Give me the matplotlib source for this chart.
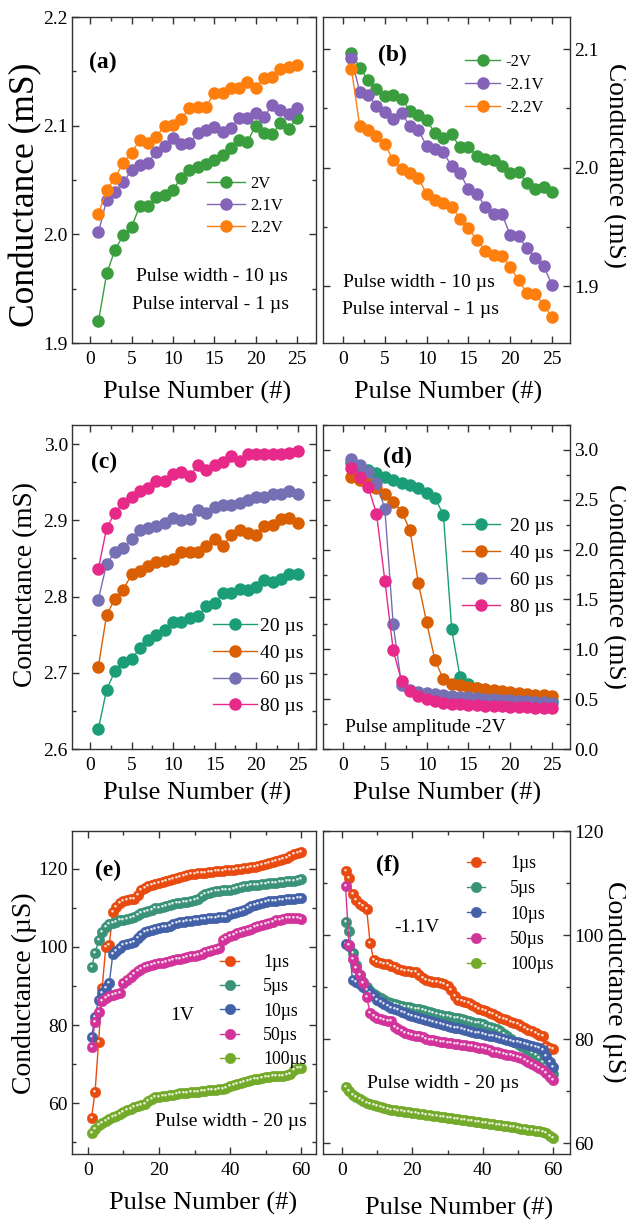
import numpy as np
import matplotlib
matplotlib.use('Agg')
import matplotlib.pyplot as plt
from matplotlib.ticker import MultipleLocator
from matplotlib.legend_handler import HandlerTuple
from matplotlib.path import Path

plt.rcParams['font.family'] = ['Liberation Serif', 'DejaVu Serif']

# ---- data ----
pulse25 = np.arange(1, 26)
pulse60 = np.arange(1, 61)

# (a) potentiation, pulse width 10 us
a_labels = ['2V', '2.1V', '2.2V']
a_2v = [1.920, 1.964, 1.986, 1.999, 2.007, 2.026, 2.026, 2.034, 2.036, 2.041,
        2.052, 2.059, 2.062, 2.065, 2.068, 2.073, 2.079, 2.087, 2.085, 2.100,
        2.093, 2.092, 2.102, 2.097, 2.107]
a_21v = [2.002, 2.032, 2.039, 2.048, 2.059, 2.064, 2.066, 2.076, 2.081, 2.089,
         2.083, 2.084, 2.093, 2.096, 2.099, 2.094, 2.098, 2.107, 2.107, 2.112,
         2.108, 2.119, 2.114, 2.111, 2.116]
a_22v = [2.019, 2.041, 2.052, 2.066, 2.075, 2.087, 2.084, 2.090, 2.100, 2.101,
         2.106, 2.116, 2.117, 2.117, 2.130, 2.130, 2.135, 2.135, 2.140, 2.135,
         2.144, 2.145, 2.152, 2.154, 2.156]

# (b) depression, pulse width 10 us
b_labels = ['-2V', '-2.1V', '-2.2V']
b_2v = [2.097, 2.084, 2.074, 2.066, 2.060, 2.061, 2.058, 2.048, 2.044, 2.040,
        2.029, 2.025, 2.028, 2.017, 2.017, 2.010, 2.007, 2.006, 2.001, 1.995,
        1.996, 1.987, 1.982, 1.984, 1.979]
b_21v = [2.092, 2.064, 2.061, 2.052, 2.047, 2.041, 2.046, 2.035, 2.032, 2.018,
         2.016, 2.013, 2.001, 1.995, 1.982, 1.978, 1.967, 1.961, 1.961, 1.943,
         1.942, 1.932, 1.924, 1.917, 1.901]
b_22v = [2.083, 2.035, 2.032, 2.027, 2.020, 2.006, 1.999, 1.995, 1.991, 1.978,
         1.973, 1.970, 1.967, 1.957, 1.949, 1.939, 1.930, 1.926, 1.925, 1.916,
         1.905, 1.894, 1.893, 1.884, 1.874]

# (c) potentiation for different pulse widths
cd_labels = ['20 µs', '40 µs', '60 µs', '80 µs']
c_20 = [2.626, 2.678, 2.702, 2.714, 2.718, 2.732, 2.743, 2.750, 2.756, 2.766,
        2.767, 2.772, 2.774, 2.787, 2.792, 2.804, 2.805, 2.810, 2.809, 2.812,
        2.822, 2.819, 2.823, 2.829, 2.830]
c_40 = [2.708, 2.776, 2.797, 2.809, 2.829, 2.834, 2.840, 2.845, 2.847, 2.849,
        2.859, 2.859, 2.859, 2.866, 2.875, 2.866, 2.881, 2.887, 2.883, 2.881,
        2.892, 2.894, 2.902, 2.903, 2.897]
c_60 = [2.796, 2.843, 2.858, 2.864, 2.875, 2.887, 2.890, 2.893, 2.896, 2.903,
        2.900, 2.902, 2.913, 2.910, 2.917, 2.920, 2.920, 2.923, 2.927, 2.930,
        2.930, 2.935, 2.935, 2.938, 2.935]
c_80 = [2.836, 2.890, 2.910, 2.923, 2.931, 2.938, 2.942, 2.951, 2.951, 2.961,
        2.963, 2.958, 2.972, 2.966, 2.972, 2.976, 2.984, 2.978, 2.987, 2.987,
        2.987, 2.987, 2.987, 2.988, 2.991]

# (d) depression for different pulse widths, amplitude -2V
d_20 = [2.87, 2.83, 2.80, 2.77, 2.73, 2.70, 2.67, 2.65, 2.62, 2.57,
        2.52, 2.35, 1.20, 0.72, 0.65, 0.61, 0.58, 0.56, 0.55, 0.53,
        0.52, 0.51, 0.50, 0.49, 0.48]
d_40 = [2.73, 2.70, 2.67, 2.62, 2.56, 2.48, 2.38, 2.20, 1.67, 1.27,
        0.89, 0.70, 0.65, 0.64, 0.62, 0.61, 0.60, 0.59, 0.58, 0.57,
        0.56, 0.55, 0.54, 0.54, 0.53]
d_60 = [2.91, 2.85, 2.78, 2.67, 2.41, 1.25, 0.64, 0.59, 0.57, 0.56,
        0.55, 0.54, 0.53, 0.52, 0.52, 0.51, 0.50, 0.50, 0.49, 0.49,
        0.48, 0.48, 0.47, 0.47, 0.46]
d_80 = [2.82, 2.73, 2.63, 2.36, 1.69, 0.99, 0.68, 0.58, 0.53, 0.50,
        0.48, 0.46, 0.45, 0.45, 0.44, 0.44, 0.43, 0.43, 0.43, 0.42,
        0.42, 0.42, 0.41, 0.41, 0.41]

# (e) potentiation at 1V, (f) depression at -1.1V, uS
ef_labels = ['1µs', '5µs', '10µs', '50µs', '100µs']
e_1 = [56.3, 63.0, 75.8, 89.5, 100.0, 100.6, 109.0, 110.3, 111.3, 111.8,
       112.0, 112.2, 112.3, 113.2, 114.5, 115.2, 115.5, 115.8, 116.2, 116.5,
       116.7, 116.9, 117.2, 117.5, 117.7, 118.0, 118.3, 118.5, 118.7, 118.8,
       118.9, 119.0, 119.0, 119.1, 119.2, 119.4, 119.5, 119.5, 119.6, 119.7,
       119.8, 119.9, 120.0, 120.2, 120.3, 120.4, 120.5, 120.7, 121.0, 121.3,
       121.6, 121.8, 122.0, 122.3, 122.6, 122.9, 123.3, 123.7, 124.0, 124.3]
e_5 = [94.8, 98.5, 101.7, 103.8, 105.2, 105.8, 106.2, 106.5, 106.8, 107.0,
       107.2, 107.5, 107.8, 108.2, 108.6, 108.9, 109.2, 109.6, 109.9, 110.1,
       110.3, 110.5, 110.8, 111.0, 111.2, 111.3, 111.5, 111.6, 111.8, 112.0,
       112.3, 113.0, 113.6, 113.9, 114.1, 114.3, 114.4, 114.5, 114.6, 114.7,
       114.9, 115.1, 115.3, 115.5, 115.6, 115.8, 115.9, 116.0, 116.1, 116.2,
       116.3, 116.4, 116.5, 116.6, 116.7, 116.8, 116.9, 117.0, 117.1, 117.3]
e_10 = [76.9, 82.2, 86.5, 88.3, 89.5, 90.8, 98.2, 99.0, 99.8, 100.4,
        100.8, 101.0, 101.2, 102.2, 103.2, 103.8, 104.2, 104.4, 104.6, 104.8,
        105.0, 105.2, 105.5, 105.9, 106.2, 106.4, 106.5, 106.6, 106.7, 106.8,
        107.0, 107.1, 107.2, 107.3, 107.4, 107.5, 107.6, 107.7, 107.8, 108.4,
        108.7, 109.0, 109.3, 109.6, 110.0, 110.4, 110.8, 111.1, 111.3, 111.5,
        111.7, 111.8, 111.9, 112.0, 112.1, 112.2, 112.3, 112.4, 112.5, 112.6]
e_50 = [74.5, 80.9, 83.4, 86.3, 87.0, 87.4, 87.8, 88.0, 88.3, 90.8,
        91.5, 92.3, 93.2, 93.9, 94.4, 94.8, 95.1, 95.4, 95.6, 95.8,
        96.0, 96.2, 96.4, 96.6, 96.8, 97.0, 97.2, 97.4, 97.6, 97.8,
        98.0, 98.3, 98.6, 98.9, 99.2, 99.5, 99.8, 101.8, 102.4, 102.8,
        103.2, 103.5, 103.8, 104.1, 104.4, 104.7, 105.0, 105.3, 105.6, 105.9,
        106.2, 106.5, 106.8, 107.0, 107.2, 107.3, 107.3, 107.3, 107.3, 107.2]
e_100 = [52.5, 53.5, 54.5, 55.0, 55.5, 55.9, 56.4, 56.8, 57.3, 57.8,
         58.2, 58.6, 59.0, 59.4, 59.6, 59.8, 60.5, 61.2, 61.5, 61.7,
         61.8, 61.9, 62.0, 62.2, 62.4, 62.5, 62.6, 62.7, 62.8, 62.9,
         63.0, 63.1, 63.2, 63.3, 63.4, 63.5, 63.6, 63.7, 64.0, 64.4,
         64.7, 64.9, 65.1, 65.4, 65.7, 65.9, 66.1, 66.3, 66.5, 66.7,
         66.8, 66.9, 66.9, 67.0, 67.0, 67.1, 67.4, 68.5, 68.9, 69.0]

f_1 = [112.3, 110.9, 107.8, 106.8, 105.9, 105.5, 105.0, 98.4, 95.2, 94.8,
       94.6, 94.5, 94.4, 94.1, 93.8, 93.5, 93.3, 93.1, 93.0, 92.9,
       92.8, 92.4, 91.8, 91.4, 91.2, 91.0, 90.9, 90.7, 90.5, 90.2,
       89.5, 88.2, 87.6, 87.3, 87.1, 86.9, 86.6, 86.2, 85.8, 85.5,
       85.3, 85.1, 84.8, 84.4, 84.1, 83.9, 83.6, 83.3, 83.0, 82.8,
       82.5, 82.2, 81.8, 81.5, 81.1, 80.8, 80.6, 78.6, 78.3, 78.1]
f_5 = [102.5, 100.7, 96.6, 94.3, 92.3, 91.0, 90.0, 89.3, 88.7, 88.2,
       87.8, 87.5, 87.2, 86.9, 86.7, 86.5, 86.4, 86.2, 86.1, 85.9,
       85.8, 85.7, 85.5, 85.4, 85.2, 85.0, 84.8, 84.6, 84.5, 84.4,
       84.3, 84.1, 84.0, 83.8, 83.6, 83.5, 83.3, 83.1, 83.0, 82.8,
       82.6, 82.4, 82.1, 81.9, 81.6, 81.0, 80.6, 80.0, 79.5, 79.0,
       78.6, 78.3, 77.9, 77.4, 76.9, 76.3, 75.6, 74.8, 74.0, 73.3]
f_10 = [98.2, 97.8, 91.3, 90.9, 90.5, 90.0, 89.4, 88.8, 88.2, 87.6,
        87.2, 86.8, 86.4, 86.0, 85.7, 85.5, 85.2, 85.0, 84.7, 84.5,
        84.3, 84.1, 83.9, 83.7, 83.5, 83.3, 83.1, 82.9, 82.7, 82.6,
        82.4, 82.2, 82.1, 81.9, 81.7, 81.6, 81.4, 81.2, 81.1, 80.9,
        80.8, 80.6, 80.5, 80.3, 80.2, 80.0, 79.9, 79.7, 79.5, 79.4,
        79.2, 79.0, 78.8, 78.6, 78.4, 78.2, 77.9, 76.8, 75.6, 74.7]
f_50 = [109.5, 98.0, 95.3, 93.7, 92.3, 90.8, 88.0, 85.1, 84.5, 84.1,
        83.8, 83.6, 83.5, 83.5, 82.3, 81.9, 81.6, 81.2, 81.0, 80.8,
        80.6, 80.5, 80.3, 80.1, 79.9, 79.8, 79.6, 79.5, 79.4, 79.3,
        79.2, 79.1, 79.0, 78.9, 78.8, 78.7, 78.6, 78.5, 78.3, 78.2,
        78.0, 77.8, 77.6, 77.5, 77.3, 77.2, 77.0, 76.9, 76.7, 76.5,
        76.3, 76.0, 75.6, 75.2, 74.8, 74.4, 74.0, 73.5, 72.8, 72.2]
f_100 = [70.7, 70.0, 69.3, 68.8, 68.4, 68.1, 67.8, 67.5, 67.3, 67.1,
         66.9, 66.7, 66.6, 66.4, 66.3, 66.2, 66.1, 66.0, 65.9, 65.8,
         65.7, 65.6, 65.5, 65.4, 65.4, 65.3, 65.2, 65.1, 65.0, 64.9,
         64.8, 64.7, 64.6, 64.5, 64.4, 64.3, 64.2, 64.1, 64.0, 63.9,
         63.8, 63.7, 63.6, 63.5, 63.4, 63.3, 63.2, 63.1, 63.0, 62.9,
         62.8, 62.7, 62.6, 62.5, 62.4, 62.3, 62.2, 62.0, 61.4, 61.0]

# colours
ab_colors = ['#3a9e3f', '#8463b8', '#ff7f0e']
cd_colors = ['#1b9e77', '#d95f02', '#7570b3', '#e7298a']
ef_colors = ['#e84a0f', '#3a9278', '#4361a8', '#d1339b', '#74aa2a']

W, H = 626, 1221
fig = plt.figure(figsize=(W / 100, H / 100), dpi=100)

# axes boxes in pixels: left, top, right, bottom
box_a = (72, 17, 316, 343)
box_b = (323, 17, 570, 343)
box_c = (72, 425, 316, 749)
box_d = (323, 425, 570, 749)
box_e = (72, 831, 316, 1154)
box_f = (323, 831, 570, 1154)


def add_axes(box):
    l, t, r, b = box
    return fig.add_axes([l / W, 1 - b / H, (r - l) / W, (b - t) / H])


def frac(box, x, y):
    l, t, r, b = box
    return (x - l) / (r - l), (b - y) / (b - t)


def style(ax, right, xmaj, xmin, ymaj, ymin, xlim, ylim):
    ax.set_xlim(xlim)
    ax.set_ylim(ylim)
    ax.xaxis.set_major_locator(MultipleLocator(xmaj))
    ax.xaxis.set_minor_locator(MultipleLocator(xmin))
    ax.yaxis.set_major_locator(MultipleLocator(ymaj))
    ax.yaxis.set_minor_locator(MultipleLocator(ymin))
    ax.tick_params(which='both', direction='in', top=True, bottom=True,
                   left=True, right=True, color='#333333', labelsize=14)
    ax.tick_params(which='major', length=5, width=1.0)
    ax.tick_params(which='minor', length=3, width=1.0)
    ax.tick_params(axis='x', pad=6)
    ax.tick_params(axis='y', pad=3)
    if right:
        ax.tick_params(axis='y', labelleft=False, labelright=True)
    for s in ax.spines.values():
        s.set_color('#333333')
        s.set_linewidth(1.0)


def labels(ax, right, ylab, yfs, ylx, yly, xlx, xly):
    ax.set_xlabel('Pulse Number (#)', fontsize=19)
    ax.xaxis.set_label_coords(xlx, xly)
    ax.xaxis.label.set_va('center')
    ax.set_ylabel(ylab, fontsize=yfs)
    if right:
        ax.yaxis.set_label_position('right')
        ax.yaxis.label.set_rotation(270)
    ax.yaxis.set_label_coords(ylx, yly)
    ax.yaxis.label.set_va('center')


def note(ax, box, x, y, s, fs=14, bold=False):
    fx, fy = frac(box, x, y)
    ax.text(fx, fy, s, transform=ax.transAxes, ha='center', va='center',
            fontsize=fs, fontweight='bold' if bold else 'normal')


def put_legend(ax, box, handles, names, fs, x0, y0, dy, hx1, tx):
    fs_px = fs / 72 * 100
    ax.legend(handles, names, loc='upper left',
              bbox_to_anchor=frac(box, x0, y0 - 0.45 * fs_px),
              bbox_transform=ax.transAxes, frameon=False, fontsize=fs,
              borderpad=0, borderaxespad=0, numpoints=1,
              handlelength=(hx1 - x0) / fs_px,
              handletextpad=(tx - hx1) / fs_px,
              labelspacing=dy / fs_px - 0.92,
              handler_map={tuple: HandlerTuple(ndivide=None)})


# shiny highlight marker for the bead-like points in (e) and (f)
_c = Path.circle((-0.1, 0.12), 0.12)
shine = Path(np.vstack([_c.vertices, [[0.5, 0.5], [-0.5, -0.5]]]),
             np.concatenate([_c.codes, [Path.MOVETO, Path.MOVETO]]))


def beads(ax, x, y, color):
    ln, = ax.plot(x, y, '-o', color=color, lw=1.0, ms=7.6, mec=color, mew=0.3)
    hl, = ax.plot(x, y, ls='none', marker=shine, ms=7.6, color='white',
                  mec='none', alpha=0.85)
    return (ln, hl)


# ---- (a) ----
ax = add_axes(box_a)
hs = []
for y, c in zip([a_2v, a_21v, a_22v], ab_colors):
    hs.append(ax.plot(pulse25, y, '-o', color=c, lw=1.0, ms=8)[0])
style(ax, False, 5, 2.5, 0.1, 0.05, (-2.2, 27.3), (1.9, 2.2))
labels(ax, False, 'Conductance (mS)', 25.5, -0.189, 0.454, 0.512, -0.153)
put_legend(ax, box_a, hs, a_labels, 12, 207, 183, 21.5, 245, 250)
note(ax, box_a, 103, 62, '(a)', 17, True)
note(ax, box_a, 212, 277, 'Pulse width - 10 µs')
note(ax, box_a, 211, 305, 'Pulse interval - 1 µs')

# ---- (b) ----
ax = add_axes(box_b)
hs = []
for y, c in zip([b_2v, b_21v, b_22v], ab_colors):
    hs.append(ax.plot(pulse25, y, '-o', color=c, lw=1.0, ms=8)[0])
style(ax, True, 5, 2.5, 0.1, 0.05, (-2.4, 27.15), (1.852, 2.127))
labels(ax, True, 'Conductance (mS)', 19.7, 1.182, 0.546, 0.506, -0.153)
put_legend(ax, box_b, hs, b_labels, 12, 465, 61, 22.7, 500, 505)
note(ax, box_b, 392, 55, '(b)', 17, True)
note(ax, box_b, 419, 283, 'Pulse width - 10 µs')
note(ax, box_b, 420, 310, 'Pulse interval - 1 µs')

# ---- (c) ----
ax = add_axes(box_c)
hs = []
for y, c in zip([c_20, c_40, c_60, c_80], cd_colors):
    hs.append(ax.plot(pulse25, y, '-o', color=c, lw=1.0, ms=8)[0])
style(ax, False, 5, 2.5, 0.1, 0.05, (-2.17, 27.2), (2.6, 3.025))
labels(ax, False, 'Conductance (mS)', 19.7, -0.189, 0.508, 0.512, -0.136)
put_legend(ax, box_c, hs, cd_labels, 14, 213, 626, 27, 257, 260)
note(ax, box_c, 104, 462, '(c)', 17, True)

# ---- (d) ----
ax = add_axes(box_d)
hs = []
for y, c in zip([d_20, d_40, d_60, d_80], cd_colors):
    hs.append(ax.plot(pulse25, y, '-o', color=c, lw=1.0, ms=8)[0])
style(ax, True, 5, 2.5, 0.5, 0.25, (-2.4, 27.15), (0, 3.25))
labels(ax, True, 'Conductance (mS)', 19.7, 1.182, 0.5, 0.502, -0.136)
put_legend(ax, box_d, hs, cd_labels, 14, 462, 526, 27.3, 500, 510)
note(ax, box_d, 397, 457, '(d)', 17, True)
note(ax, box_d, 425, 727, 'Pulse amplitude -2V')

# ---- (e) ----
ax = add_axes(box_e)
hs = [beads(ax, pulse60, y, c)
      for y, c in zip([e_1, e_5, e_10, e_50, e_100], ef_colors)]
style(ax, False, 20, 10, 20, 10, (-4.5, 64.2), (47, 129.7))
labels(ax, False, 'Conductance (µS)', 20, -0.193, 0.498, 0.537, -0.152)
put_legend(ax, box_e, hs, ef_labels, 12.8, 220, 962, 23.7, 258, 263)
note(ax, box_e, 108, 870, '(e)', 17, True)
note(ax, box_e, 182, 1015, '1V')
note(ax, box_e, 231, 1121, 'Pulse width - 20 µs')

# ---- (f) ----
ax = add_axes(box_f)
hs = [beads(ax, pulse60, y, c)
      for y, c in zip([f_1, f_5, f_10, f_50, f_100], ef_colors)]
style(ax, True, 20, 10, 20, 10, (-5.4, 64.8), (57.9, 120))
labels(ax, True, 'Conductance (µS)', 20, 1.182, 0.533, 0.55, -0.17)
put_legend(ax, box_f, hs, ef_labels, 12.8, 467, 863, 24.7, 503, 510)
note(ax, box_f, 388, 865, '(f)', 17, True)
note(ax, box_f, 417, 927, '-1.1V')
note(ax, box_f, 443, 1083, 'Pulse width - 20 µs')

fig.savefig('out.png', dpi=100)
